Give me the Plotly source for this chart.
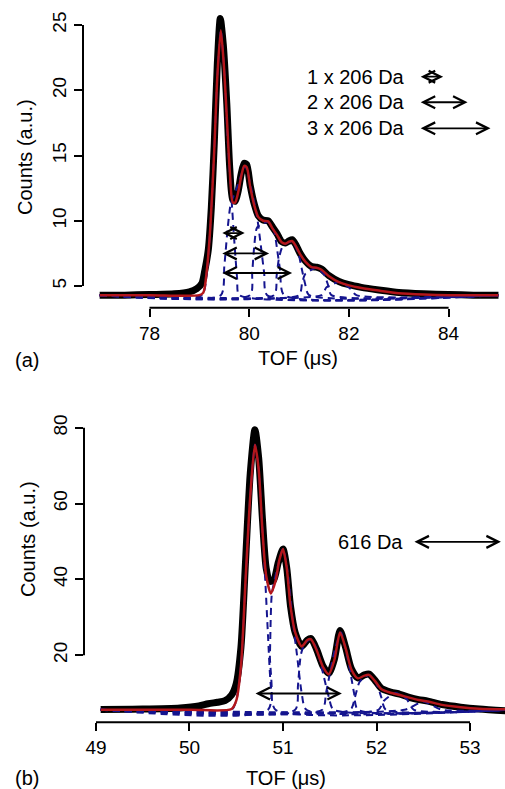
import plotly.graph_objects as go

# ---------------- data: panel (a) ----------------
a_x = [77.0, 77.5, 78.0, 78.5, 78.8, 78.95, 79.05, 79.11, 79.18, 79.24, 79.3, 79.36, 79.42, 79.48,
       79.55, 79.61, 79.67, 79.72, 79.78, 79.84, 79.9, 79.95, 80.02, 80.1, 80.18, 80.28, 80.38, 80.47,
       80.56, 80.65, 80.73, 80.8, 80.86, 80.93, 81.02, 81.13, 81.25, 81.35, 81.45, 81.6, 81.8, 82.0,
       82.25, 82.6, 83.0, 83.5, 84.0, 84.5, 85.0]
a_data = [4.3, 4.3, 4.35, 4.4, 4.55, 4.8, 5.2, 6.2, 7.8, 11.0, 16.0, 22.0, 25.5, 23.5,
          19.0, 14.0, 11.6, 11.5, 12.3, 13.6, 14.4, 14.3, 12.7, 11.3, 10.4, 10.05, 10.0, 9.5,
          9.0, 8.4, 8.3, 8.45, 8.55, 8.2, 7.5, 6.9, 6.5, 6.45, 6.3, 5.8, 5.35, 5.1,
          4.9, 4.7, 4.5, 4.4, 4.35, 4.3, 4.3]
a_fit_x = [77.0, 78.0, 79.0, 79.08, 79.15, 79.22, 79.3, 79.36, 79.43, 79.49, 79.55, 79.61, 79.67,
           79.72, 79.78, 79.84, 79.9, 79.95, 80.02, 80.1, 80.18, 80.28, 80.38, 80.47, 80.56, 80.65,
           80.73, 80.8, 80.86, 80.93, 81.02, 81.13, 81.25, 81.35, 81.45, 81.6, 81.8, 82.0, 82.25,
           82.6, 83.0, 83.5, 84.0, 85.0]
a_fit = [4.3, 4.3, 4.3, 4.5, 6.2, 9.5, 15.5, 21.0, 24.6, 22.0, 18.0, 13.8, 11.4,
         11.4, 12.2, 13.4, 14.2, 14.1, 12.6, 11.2, 10.3, 10.0, 9.95, 9.4, 8.9, 8.35,
         8.25, 8.4, 8.45, 8.1, 7.45, 6.85, 6.45, 6.4, 6.25, 5.75, 5.3, 5.05, 4.85,
         4.65, 4.45, 4.35, 4.3, 4.3]
a_comp_x = [
    [77.0, 79.05, 79.15, 79.22, 79.3, 79.36, 79.43, 79.5, 79.57, 79.64, 79.7, 79.76, 79.8, 85.0],
    [77.0, 79.43, 79.5, 79.57, 79.63, 79.75, 79.92, 80.05, 80.15, 80.22, 80.3, 80.36, 85.0],
    [77.0, 80.02, 80.06, 80.1, 80.16, 80.38, 80.5, 80.56, 80.62, 80.7, 85.0],
    [77.0, 80.5, 80.55, 80.6, 80.68, 80.86, 80.98, 81.05, 81.12, 81.2, 85.0],
    [77.0, 81.0, 81.06, 81.12, 81.35, 81.5, 81.58, 81.65, 85.0],
    [77.0, 81.45, 81.55, 81.8, 82.0, 82.15, 85.0],
]
a_comp_y = [
    [4.3, 4.3, 6.0, 9.5, 15.5, 21.0, 24.6, 21.5, 16.0, 12.0, 8.5, 5.5, 4.3, 4.3],
    [4.3, 4.3, 6.5, 9.5, 11.3, 12.5, 14.2, 12.3, 10.5, 8.5, 6.0, 4.3, 4.3],
    [4.3, 4.3, 6.0, 8.0, 9.5, 9.9, 9.2, 7.8, 6.2, 4.3, 4.3],
    [4.3, 4.3, 5.8, 7.2, 8.1, 8.4, 7.6, 6.4, 5.2, 4.3, 4.3],
    [4.3, 4.3, 5.2, 5.9, 6.4, 5.9, 5.1, 4.3, 4.3],
    [4.3, 4.3, 4.9, 5.3, 4.9, 4.3, 4.3],
]
a_xticks = [78, 80, 82, 84]
a_yticks = [5, 10, 15, 20, 25]
a_arrow_start = 79.43
a_arrow_len = [0.48, 0.97, 1.43]
a_arrow_y = [9.06, 7.5, 6.0]
a_labels = ["1 x 206 Da", "2 x 206 Da", "3 x 206 Da"]
a_label_y = [21.04, 19.08, 17.08]

# ---------------- data: panel (b) ----------------
b_x = [49.05, 49.5, 49.9, 50.1, 50.2, 50.3, 50.38, 50.45, 50.5, 50.55, 50.6, 50.65, 50.7, 50.74,
       50.78, 50.82, 50.86, 50.9, 50.95, 51.0, 51.04, 51.08, 51.13, 51.2, 51.26, 51.3, 51.36,
       51.43, 51.49, 51.55, 51.61, 51.67, 51.73, 51.8, 51.87, 51.92, 51.98, 52.05, 52.15, 52.25,
       52.35, 52.45, 52.55, 52.7, 52.9, 53.1, 53.4]
b_data = [5.7, 5.8, 6.1, 6.6, 7.2, 7.6, 8.0, 9.5, 12.5, 22.0, 45.0, 68.0, 79.5, 72.0,
          56.0, 43.0, 39.5, 39.8, 44.5, 48.0, 43.0, 33.0, 26.0, 22.3, 24.0, 24.4, 21.5,
          17.0, 15.2, 19.0, 26.5, 22.0, 16.5, 14.0, 14.8, 15.0, 13.5, 11.3, 10.3, 9.7,
          8.9, 8.3, 7.9, 7.0, 6.3, 5.8, 5.3]
b_fit_x = [49.05, 50.0, 50.45, 50.5, 50.55, 50.6, 50.65, 50.7, 50.74, 50.78, 50.82, 50.87, 50.92,
           50.96, 51.0, 51.04, 51.08, 51.13, 51.2, 51.26, 51.3, 51.36, 51.43, 51.49, 51.55, 51.61,
           51.67, 51.73, 51.8, 51.87, 51.92, 51.98, 52.05, 52.15, 52.25, 52.35, 52.45, 52.55,
           52.7, 52.9, 53.1, 53.4]
b_fit = [5.6, 5.6, 5.8, 8.0, 17.0, 40.0, 62.0, 75.5, 69.0, 53.0, 41.0, 36.3, 39.5,
         45.0, 48.0, 43.0, 33.0, 26.0, 22.3, 24.0, 24.2, 21.3, 16.8, 15.0, 18.8, 26.0,
         21.8, 16.3, 13.9, 14.6, 14.8, 13.3, 11.1, 10.1, 9.5, 8.8, 8.2, 7.8,
         6.9, 6.3, 5.9, 5.7]
b_comp_x = [
    [49.05, 50.45, 50.5, 50.55, 50.6, 50.65, 50.7, 50.74, 50.78, 50.81, 50.84, 50.87, 50.92, 53.4],
    [49.05, 50.84, 50.86, 50.88, 50.93, 51.0, 51.05, 51.1, 51.15, 51.2, 51.25, 53.4],
    [49.05, 51.13, 51.16, 51.19, 51.23, 51.3, 51.37, 51.43, 51.49, 51.54, 53.4],
    [49.05, 51.42, 51.46, 51.5, 51.56, 51.62, 51.67, 51.72, 51.76, 51.8, 53.4],
    [49.05, 51.72, 51.77, 51.82, 51.92, 52.0, 52.05, 52.1, 53.4],
    [49.05, 52.02, 52.08, 52.2, 52.32, 52.4, 53.4],
    [49.05, 52.3, 52.5, 52.7, 53.4],
]
b_comp_y = [
    [5.6, 5.6, 8.0, 17.0, 40.0, 62.0, 75.5, 69.0, 53.0, 40.0, 25.0, 12.0, 5.6, 5.6],
    [5.6, 5.6, 20.0, 36.0, 42.0, 48.0, 42.0, 30.0, 20.0, 10.0, 5.6, 5.6],
    [5.6, 5.6, 12.0, 20.0, 23.0, 24.2, 21.0, 15.0, 9.0, 5.6, 5.6],
    [5.6, 5.6, 10.0, 15.0, 22.0, 26.0, 21.5, 15.5, 10.0, 5.6, 5.6],
    [5.6, 5.6, 9.0, 13.0, 14.8, 12.5, 9.0, 5.6, 5.6],
    [5.6, 5.6, 8.0, 10.0, 8.5, 5.6, 5.6],
    [5.6, 5.6, 7.8, 5.6, 5.6],
]
b_xticks = [49, 50, 51, 52, 53]
b_yticks = [20, 40, 60, 80]
b_arrow_start = 50.69
b_arrow_len = [0.94]
b_arrow_y = [9.9]
b_labels = ["616 Da"]
b_label_y = [49.9]

# ---------------- styling / layout ----------------
W, H = 505, 789
FONT = "Liberation Sans, Arial, Helvetica, sans-serif"
BLACK = "#000000"
RED = "#b3161b"
BLUE = "#15158f"


def px_x(p):
    return p / W


def px_y(p):
    return 1 - p / H


fig = go.Figure()

panels = [
    dict(xa="x", ya="y", x=a_x, d=a_data, fx=a_fit_x, f=a_fit, cx=a_comp_x, cy=a_comp_y),
    dict(xa="x2", ya="y2", x=b_x, d=b_data, fx=b_fit_x, f=b_fit, cx=b_comp_x, cy=b_comp_y),
]
for p in panels:
    fig.add_trace(go.Scatter(x=p["x"], y=p["d"], mode="lines", xaxis=p["xa"], yaxis=p["ya"],
                             line=dict(color=BLACK, width=7, shape="spline", smoothing=0.7),
                             hoverinfo="skip"))
    for cx, cy in zip(p["cx"], p["cy"]):
        fig.add_trace(go.Scatter(x=cx, y=cy, mode="lines", xaxis=p["xa"], yaxis=p["ya"],
                                 line=dict(color=BLUE, width=2, dash="7px,5px",
                                           shape="spline", smoothing=0.6),
                                 hoverinfo="skip"))
    fig.add_trace(go.Scatter(x=p["fx"], y=p["f"], mode="lines", xaxis=p["xa"], yaxis=p["ya"],
                             line=dict(color=RED, width=2.5, shape="spline", smoothing=0.7),
                             hoverinfo="skip"))

axis_common = dict(showgrid=False, zeroline=False, showline=False, ticks="outside",
                   ticklen=8, tickwidth=2, tickcolor=BLACK,
                   tickfont=dict(family=FONT, size=19, color=BLACK), fixedrange=True)

fig.update_layout(
    width=W, height=H, autosize=False,
    margin=dict(l=0, r=0, t=0, b=0),
    paper_bgcolor="white", plot_bgcolor="white",
    showlegend=False,
    xaxis=dict(domain=[px_x(83), 1], range=[76.666, 85.131], tickvals=a_xticks,
               anchor="y", **axis_common),
    yaxis=dict(domain=[px_y(307.7), px_y(3.3)], range=[3.34, 26.66], tickvals=a_yticks,
               tickangle=-90, anchor="x", **axis_common),
    xaxis2=dict(domain=[px_x(84), 1], range=[48.872, 53.374], tickvals=b_xticks,
                anchor="y2", **axis_common),
    yaxis2=dict(domain=[px_y(722.3), px_y(410.7)], range=[2.3, 84.5], tickvals=b_yticks,
                tickangle=-90, anchor="x2", **axis_common),
)

# axis lines spanning first..last tick (R style)
shapes = []
for xr, yr, xt, yt in [("x", "y", a_xticks, a_yticks), ("x2", "y2", b_xticks, b_yticks)]:
    shapes.append(dict(type="line", xref=xr, yref=yr + " domain", x0=xt[0], x1=xt[-1], y0=0, y1=0,
                       line=dict(color=BLACK, width=2)))
    shapes.append(dict(type="line", xref=xr + " domain", yref=yr, x0=0, x1=0, y0=yt[0], y1=yt[-1],
                       line=dict(color=BLACK, width=2)))
fig.update_layout(shapes=shapes)

annotations = []


def add_arrow(xr, yr, x0, x1, y):
    annotations.append(dict(x=x1, y=y, ax=x0, ay=y, xref=xr, yref=yr, axref=xr, ayref=yr,
                            text="", showarrow=True, arrowhead=5, startarrowhead=5,
                            arrowside="end+start", arrowsize=1.3, startarrowsize=1.3,
                            arrowwidth=1.8, arrowcolor=BLACK, standoff=0, startstandoff=0))


# panel (a): arrows in plot and key
for ln, y in zip(a_arrow_len, a_arrow_y):
    add_arrow("x", "y", a_arrow_start, a_arrow_start + ln, y)
a_key_start = 83.41
for lab, ln, y in zip(a_labels, a_arrow_len, a_label_y):
    annotations.append(dict(x=83.165, y=y, xref="x", yref="y", text=lab, showarrow=False,
                            xanchor="right", yanchor="middle",
                            font=dict(family=FONT, size=20, color=BLACK)))
    add_arrow("x", "y", a_key_start, a_key_start + ln, y)

# panel (b)
for ln, y in zip(b_arrow_len, b_arrow_y):
    add_arrow("x2", "y2", b_arrow_start, b_arrow_start + ln, y)
b_key_start = 52.39
for lab, ln, y in zip(b_labels, b_arrow_len, b_label_y):
    annotations.append(dict(x=52.305, y=y, xref="x2", yref="y2", text=lab, showarrow=False,
                            xanchor="right", yanchor="middle",
                            font=dict(family=FONT, size=20, color=BLACK)))
    add_arrow("x2", "y2", b_key_start, b_key_start + ln, y)

# titles and panel letters
titles = [
    ("TOF (μs)", 298, 358, 0), ("(a)", 27, 360, 0),
    ("TOF (μs)", 286, 778, 0), ("(b)", 27, 778, 0),
    ("Counts (a.u.)", 25, 157, -90), ("Counts (a.u.)", 28, 539, -90),
]
for txt, xp, yp, ang in titles:
    annotations.append(dict(x=px_x(xp), y=px_y(yp), xref="paper", yref="paper", text=txt,
                            showarrow=False, xanchor="center", yanchor="middle", textangle=ang,
                            font=dict(family=FONT, size=20, color=BLACK)))

fig.update_layout(annotations=annotations)
fig.write_html("out.html")
